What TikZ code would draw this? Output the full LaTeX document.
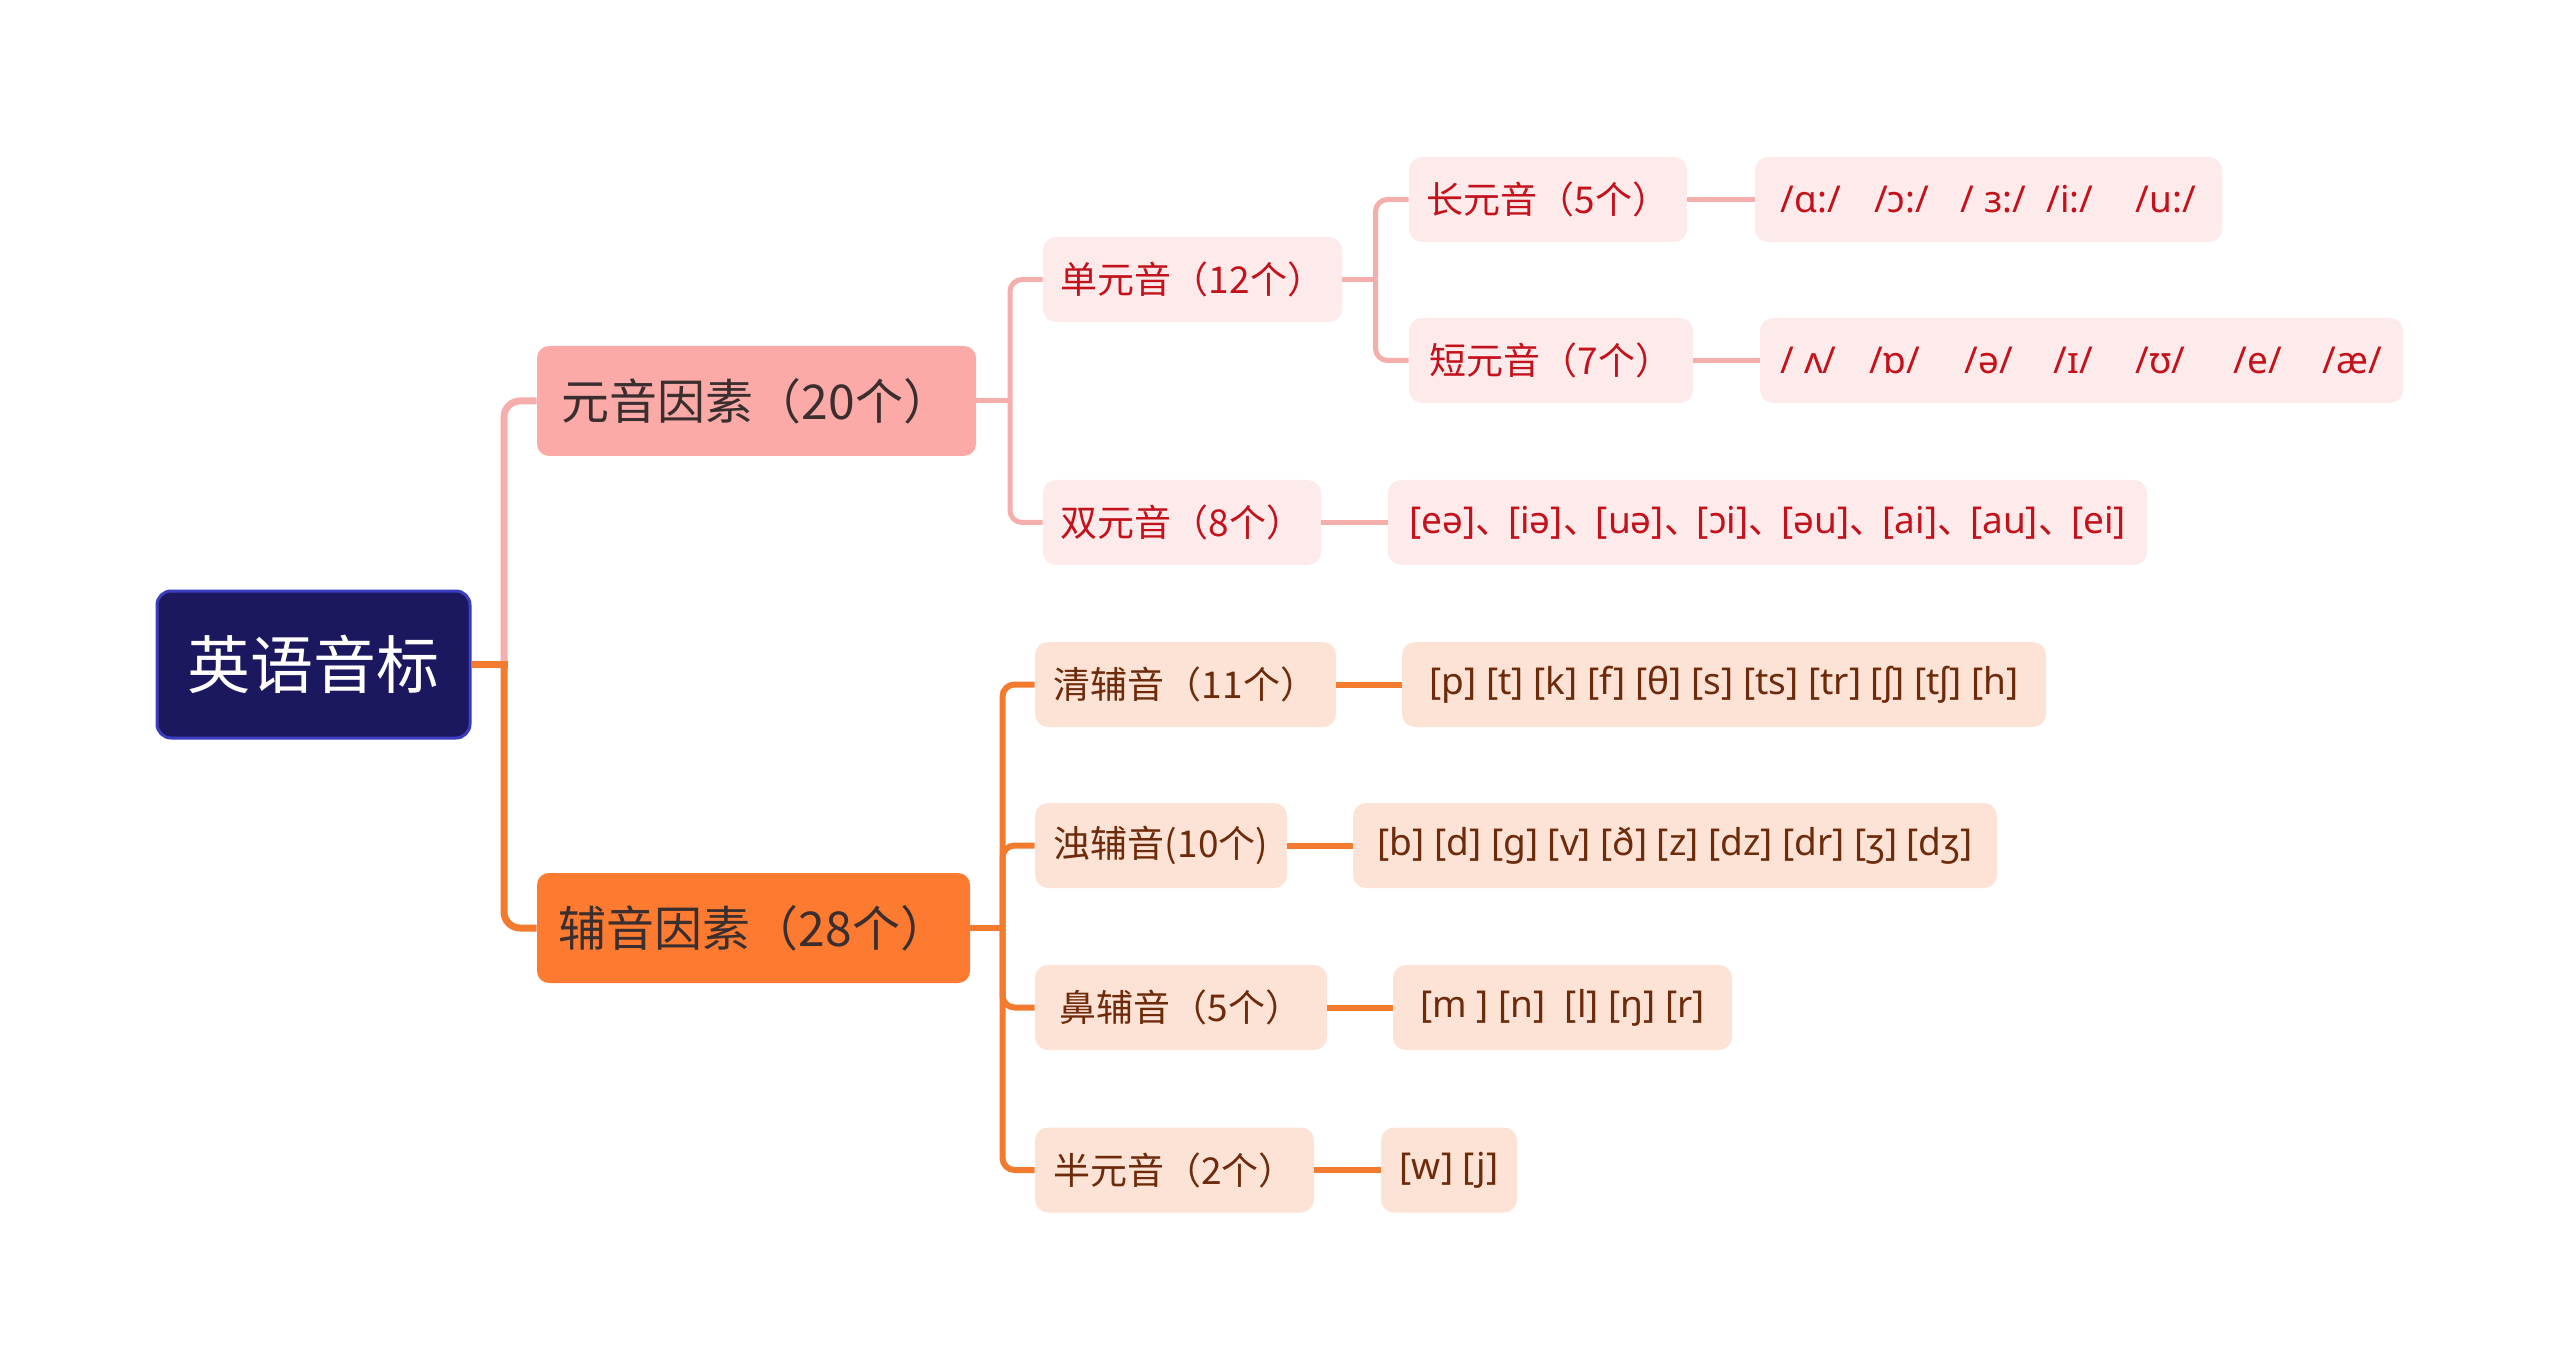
\documentclass[tikz,border=0pt]{standalone}
\usepackage{fontspec}
\setmainfont{Noto Sans}
\newfontfamily\cjk{Noto Sans CJK SC}
\definecolor{rootfill}{HTML}{1B1860}
\definecolor{rootborder}{HTML}{3B3DC0}
\definecolor{pinkA}{HTML}{FBAAA7}
\definecolor{orangeA}{HTML}{FD7B30}
\definecolor{pinkB}{HTML}{FDEBEB}
\definecolor{orangeB}{HTML}{FDE3D5}
\definecolor{redtext}{HTML}{C4121C}
\definecolor{browntext}{HTML}{6E2B0C}
\definecolor{darktext}{HTML}{3A2E2E}
\definecolor{pinkline}{HTML}{F6AEAD}
\definecolor{orangeline}{HTML}{F27B30}
\tikzset{
  rootbox/.style={draw=rootborder, line width=1.5pt, fill=rootfill, rounded corners=7pt,
    text=white, font=\cjk\fontsize{31.5}{36}\selectfont,
    minimum width=156.5pt, minimum height=73.5pt, inner sep=0pt},
  lvpink/.style={fill=pinkA, rounded corners=6pt, text=darktext,
    font=\cjk\fontsize{24}{28}\selectfont, minimum height=55pt, inner sep=0pt},
  lvorange/.style={fill=orangeA, rounded corners=6pt, text=darktext,
    font=\cjk\fontsize{24}{28}\selectfont, minimum height=55pt, inner sep=0pt},
  subpink/.style={fill=pinkB, rounded corners=6.5pt, text=redtext,
    font=\cjk\fontsize{18.5}{22}\selectfont, minimum height=42.5pt, inner sep=0pt},
  suborange/.style={fill=orangeB, rounded corners=6.5pt, text=browntext,
    font=\cjk\fontsize{18.5}{22}\selectfont, minimum height=42.5pt, inner sep=0pt},
  leafpink/.style={fill=pinkB, rounded corners=6.5pt, text=redtext,
    font=\fontsize{18.5}{22}\selectfont, minimum height=42.5pt, inner sep=0pt},
  leaforange/.style={fill=orangeB, rounded corners=6.5pt, text=browntext,
    font=\fontsize{18.5}{22}\selectfont, minimum height=42.5pt, inner sep=0pt},
  pinkthick/.style={draw=pinkline, line width=3.5pt},
  orangethick/.style={draw=orangeline, line width=3.5pt},
  pinkthin/.style={draw=pinkline, line width=2.5pt},
  orangethin/.style={draw=orangeline, line width=3pt}
}
\newcommand{\dun}{{\cjk 、}\hspace{-0.11em}}
\begin{document}
\begin{tikzpicture}[x=0.5pt,y=-0.5pt]
\useasboundingbox[fill=white] (0,0) rectangle (2560,1369);

% nodes
\node[rootbox] (root) at (313.5,664.5) {英语音标};
\node[lvpink, minimum width=219.5pt] (vow) at (756.5,401) {元音因素（20个）};
\node[lvorange, minimum width=216.5pt] (con) at (753.5,928) {辅音因素（28个）};

\node[subpink, minimum width=149.5pt] (mono) at (1192.5,279.5) {单元音（12个）};
\node[subpink, minimum width=139pt] (long) at (1548,199.5) {长元音（5个）};
\node[leafpink, minimum width=233.5pt] (longipa) at (1988.5,199.5)
  {/ɑ:/\hspace{0.9em}/ɔ:/\hspace{0.85em}/ ɜ:/\hspace{0.55em}/i:/\hspace{1.15em}/u:/};
\node[subpink, minimum width=142pt] (short) at (1551,360.5) {短元音（7个）};
\node[leafpink, minimum width=321.5pt] (shortipa) at (2081.5,360.5)
  {/ ʌ/\hspace{0.9em}/ɒ/\hspace{1.2em}/ə/\hspace{1.1em}/ɪ/\hspace{1.15em}/ʊ/\hspace{1.3em}/e/\hspace{1.1em}/æ/};
\node[subpink, minimum width=139pt] (diph) at (1182,522.5) {双元音（8个）};
\node[leafpink, minimum width=379.5pt] (diphipa) at (1767.5,522.5)
  {[eə]\dun[iə]\dun[uə]\dun[ɔi]\dun[əu]\dun[ai]\dun[au]\dun[ei]};

\node[suborange, minimum width=150.5pt] (vl) at (1185.5,684.5) {清辅音（11个）};
\node[leaforange, minimum width=322pt] (vlipa) at (1724,684.5)
  {[p] [t] [k] [f] [θ] [s] [ts] [tr] [ʃ] [tʃ] [h]};
\node[suborange, minimum width=126pt] (vd) at (1161,845.5) {浊辅音(10个)};
\node[leaforange, minimum width=322pt] (vdipa) at (1675,845.5)
  {[b] [d] [g] [v] [ð] [z] [dz] [dr] [ʒ] [dʒ]};
\node[suborange, minimum width=146pt] (nas) at (1181,1007.5) {鼻辅音（5个）};
\node[leaforange, minimum width=169.5pt] (nasipa) at (1562.5,1007.5)
  {[m ] [n]\ \ [l] [ŋ] [r]};
\node[suborange, minimum width=139.5pt] (semi) at (1174.5,1170) {半元音（2个）};
\node[leaforange, minimum width=68pt] (semiipa) at (1449,1170) {[w] [j]};

% trunk points
\coordinate (t0) at (504,664.5);
\coordinate (t1) at (1010,401);
\coordinate (t2) at (1375.5,279.5);
\coordinate (t3) at (1002.5,928);

% root connectors
\draw[pinkthick, rounded corners=8pt] (t0) |- (vow.west);
\draw[orangethick, rounded corners=8pt] (t0) |- (con.west);
\draw[orangethick] (root.east) -- ([xshift=1.75pt]t0);

% vowel branch
\draw[pinkthin] (vow.east) -- (t1);
\draw[pinkthin, rounded corners=6pt] (t1) |- (mono.west);
\draw[pinkthin, rounded corners=6pt] (t1) |- (diph.west);
\draw[pinkthin] (mono.east) -- (t2);
\draw[pinkthin, rounded corners=6pt] (t2) |- (long.west);
\draw[pinkthin, rounded corners=6pt] (t2) |- (short.west);
\draw[pinkthin] (long.east) -- (longipa.west);
\draw[pinkthin] (short.east) -- (shortipa.west);
\draw[pinkthin] (diph.east) -- (diphipa.west);

% consonant branch
\draw[orangethin] (con.east) -- (t3);
\draw[orangethin, rounded corners=6pt] (t3) |- (vl.west);
\draw[orangethin, rounded corners=6pt] (t3) |- (vd.west);
\draw[orangethin, rounded corners=6pt] (t3) |- (nas.west);
\draw[orangethin, rounded corners=6pt] (t3) |- (semi.west);
\draw[orangethin] (vl.east) -- (vlipa.west);
\draw[orangethin] (vd.east) -- (vdipa.west);
\draw[orangethin] (nas.east) -- (nasipa.west);
\draw[orangethin] (semi.east) -- (semiipa.west);
\end{tikzpicture}
\end{document}
